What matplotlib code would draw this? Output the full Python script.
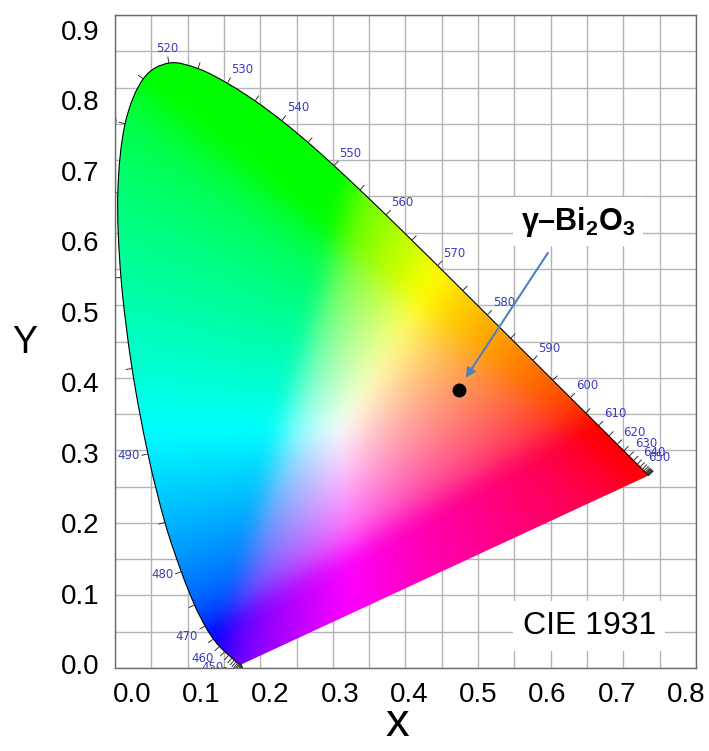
import numpy as np
import matplotlib
matplotlib.use('Agg')
import matplotlib.pyplot as plt
from matplotlib.path import Path
from matplotlib.patches import PathPatch
from matplotlib.collections import LineCollection

plt.rcParams['font.family'] = ['Liberation Sans', 'DejaVu Sans']
plt.rcParams['mathtext.fontset'] = 'custom'
plt.rcParams['mathtext.rm'] = 'Liberation Sans'
plt.rcParams['mathtext.bf'] = 'Liberation Sans:bold'
plt.rcParams['mathtext.default'] = 'bf'

# CIE 1931 2-degree spectral locus, 5 nm steps
wavelength = [380, 385, 390, 395, 400, 405, 410, 415, 420, 425, 430, 435, 440, 445,
              450, 455, 460, 465, 470, 475, 480, 485, 490, 495, 500, 505, 510, 515,
              520, 525, 530, 535, 540, 545, 550, 555, 560, 565, 570, 575, 580, 585,
              590, 595, 600, 605, 610, 615, 620, 625, 630, 635, 640, 645, 650, 655,
              660, 665, 670, 675, 680, 685, 690, 695, 700]
locus_x = [0.1741, 0.1740, 0.1738, 0.1736, 0.1733, 0.1730, 0.1726, 0.1721, 0.1714, 0.1703,
           0.1689, 0.1669, 0.1644, 0.1611, 0.1566, 0.1510, 0.1440, 0.1355, 0.1241, 0.1096,
           0.0913, 0.0687, 0.0454, 0.0235, 0.0082, 0.0039, 0.0139, 0.0389, 0.0743, 0.1142,
           0.1547, 0.1929, 0.2296, 0.2658, 0.3016, 0.3373, 0.3731, 0.4087, 0.4441, 0.4788,
           0.5125, 0.5448, 0.5752, 0.6029, 0.6270, 0.6482, 0.6658, 0.6801, 0.6915, 0.7006,
           0.7079, 0.7140, 0.7190, 0.7230, 0.7260, 0.7283, 0.7300, 0.7311, 0.7320, 0.7327,
           0.7334, 0.7340, 0.7344, 0.7346, 0.7347]
locus_y = [0.0050, 0.0050, 0.0049, 0.0049, 0.0048, 0.0048, 0.0048, 0.0048, 0.0051, 0.0058,
           0.0069, 0.0086, 0.0109, 0.0138, 0.0177, 0.0227, 0.0297, 0.0399, 0.0578, 0.0868,
           0.1327, 0.2007, 0.2950, 0.4127, 0.5384, 0.6548, 0.7502, 0.8120, 0.8338, 0.8262,
           0.8059, 0.7816, 0.7543, 0.7243, 0.6923, 0.6589, 0.6245, 0.5896, 0.5547, 0.5202,
           0.4866, 0.4544, 0.4242, 0.3965, 0.3725, 0.3514, 0.3340, 0.3197, 0.3083, 0.2993,
           0.2920, 0.2859, 0.2809, 0.2770, 0.2740, 0.2717, 0.2700, 0.2689, 0.2680, 0.2673,
           0.2666, 0.2660, 0.2656, 0.2654, 0.2653]
labelled_nm = [440, 450, 460, 470, 480, 490, 500, 510, 520, 530, 540, 550, 560, 570,
               580, 590, 600, 610, 620, 630, 640, 650]

# measured chromaticity of the sample
sample_name = 'γ–Bi$_2$O$_3$'
sample_x = 0.474
sample_y = 0.383

tick_values_x = [0.0, 0.1, 0.2, 0.3, 0.4, 0.5, 0.6, 0.7, 0.8]
tick_values_y = [0.0, 0.1, 0.2, 0.3, 0.4, 0.5, 0.6, 0.7, 0.8, 0.9]

lx = np.array(locus_x)
ly = np.array(locus_y)


def smooth_path(px, py, close=False):
    # Catmull-Rom through the locus points, written as cubic Beziers
    pts = np.column_stack([px, py])
    ext = np.vstack([pts[0], pts, pts[-1]])
    verts = [pts[0]]
    codes = [Path.MOVETO]
    for i in range(len(pts) - 1):
        p0, p1, p2, p3 = ext[i], ext[i + 1], ext[i + 2], ext[i + 3]
        verts += [p1 + (p2 - p0) / 6, p2 - (p3 - p1) / 6, p2]
        codes += [Path.CURVE4] * 3
    if close:
        verts += [pts[0], pts[0]]
        codes += [Path.LINETO, Path.CLOSEPOLY]
    return Path(np.array(verts), codes)


def blur(img, sigma):
    r = int(3 * sigma)
    k = np.exp(-0.5 * (np.arange(-r, r + 1) / sigma) ** 2)
    k /= k.sum()
    out = np.pad(img, ((r, r), (r, r), (0, 0)), mode='edge')
    out = np.apply_along_axis(lambda c: np.convolve(c, k, mode='valid'), 0, out)
    out = np.apply_along_axis(lambda c: np.convolve(c, k, mode='valid'), 1, out)
    return out


fig = plt.figure(figsize=(7.09, 7.51), dpi=100)
rect = [115 / 709, 1 - 668 / 751, 581 / 709, 653 / 751]
ax = fig.add_axes(rect)
ax.set_xlim(0, 0.8)
ax.set_ylim(0, 0.9)
ax.set_xticks(np.arange(0, 0.801, 0.05))
ax.set_yticks(np.arange(0, 0.901, 0.05))
ax.tick_params(length=0, labelbottom=False, labelleft=False)
ax.grid(True, color='#b4b4b4', lw=1.0)
ax.set_axisbelow(True)
for s in ax.spines.values():
    s.set_color('#6a6a6a')
    s.set_linewidth(1.0)

# colour field: xyY with Y=1 -> linear sRGB, scaled to max channel
nx, ny = 400, 450
gx, gy = np.meshgrid(np.linspace(0, 0.8, nx), np.linspace(0.001, 0.9, ny))
X = gx / gy
Z = (1 - gx - gy) / gy
Y = np.ones_like(gx)
M = np.array([[3.2406, -1.5372, -0.4986],
              [-0.9689, 1.8758, 0.0415],
              [0.0557, -0.2040, 1.0570]])
rgb = np.einsum('ij,jkl->kli', M, np.stack([X, Y, Z]))
rgb = np.clip(rgb, 0, None)
rgb = rgb / np.maximum(rgb.max(axis=2, keepdims=True), 1e-9)
rgb = np.where(rgb <= 0.0031308, 12.92 * rgb, 1.055 * rgb ** (1 / 2.4) - 0.055)
rgb = np.clip(blur(np.clip(rgb, 0, 1), 7), 0, 1)

im = ax.imshow(rgb, extent=[0, 0.8, 0, 0.9], origin='lower', aspect='auto',
               interpolation='bilinear', zorder=1)
clip = PathPatch(smooth_path(lx, ly, close=True), facecolor='none', edgecolor='none',
                 transform=ax.transData)
ax.add_patch(clip)
im.set_clip_path(clip)
ax.add_patch(PathPatch(smooth_path(lx, ly), facecolor='none', edgecolor='black',
                       lw=0.8, zorder=2))

# wavelength ticks along the locus, pointing outwards
dx = np.gradient(lx)
dy = np.gradient(ly)
norm = np.hypot(dx, dy)
outx, outy = -dy / norm, dx / norm
tick_len = 0.009
segs = [[(a, b), (a + tick_len * u, b + tick_len * v)]
        for a, b, u, v in zip(lx, ly, outx, outy)]
ax.add_collection(LineCollection(segs, colors='#333333', linewidths=0.7, zorder=2))

for nm in labelled_nm:
    i = wavelength.index(nm)
    u, v = outx[i], outy[i]
    ha = 'left' if u > 0.38 else ('right' if u < -0.38 else 'center')
    va = 'bottom' if v > 0.38 else ('top' if v < -0.38 else 'center')
    d = tick_len + 0.002
    ax.text(lx[i] + d * u, ly[i] + d * v, str(nm), fontsize=8.5, color='#3c3cbe',
            family='DejaVu Sans', ha=ha, va=va, clip_on=True, zorder=2)

ax.plot(sample_x, sample_y, 'o', color='black', ms=9, zorder=4)
ax.annotate('', xy=(0.483, 0.400), xytext=(0.596, 0.572),
            arrowprops=dict(arrowstyle='-|>', color='#4f81bd', lw=1.5,
                            mutation_scale=14, shrinkA=0, shrinkB=0), zorder=4)
ax.text(0.638, 0.615, sample_name, fontsize=22, ha='center', va='center',
        fontweight='bold', zorder=3,
        bbox=dict(boxstyle='square,pad=0.25', fc='white', ec='none'))
ax.text(0.653, 0.058, 'CIE 1931', fontsize=23, ha='center', va='center', zorder=3,
        bbox=dict(boxstyle='square,pad=0.3', fc='white', ec='none'))

# axis numbers sit on their own scale over the diagram
lab = fig.add_axes(rect, label='numbers')
lab.patch.set_visible(False)
for s in lab.spines.values():
    s.set_visible(False)
lab.set_xlim(-0.0245, 0.8144)
lab.set_ylim(-0.0057, 0.9213)
lab.set_xticks(tick_values_x)
lab.set_yticks(tick_values_y)
lab.set_xticklabels(['%.1f' % t for t in tick_values_x])
lab.set_yticklabels(['%.1f' % t for t in tick_values_y])
lab.tick_params(axis='x', length=0, labelsize=20, pad=10)
lab.tick_params(axis='y', length=0, labelsize=20, pad=11)

fig.text(25 / 709, 1 - 343 / 751, 'Y', fontsize=27, ha='center', va='center')
fig.text(397 / 709, 1 - 724 / 751, 'x', fontsize=34, ha='center', va='center')

fig.savefig('out.png', dpi=100)
